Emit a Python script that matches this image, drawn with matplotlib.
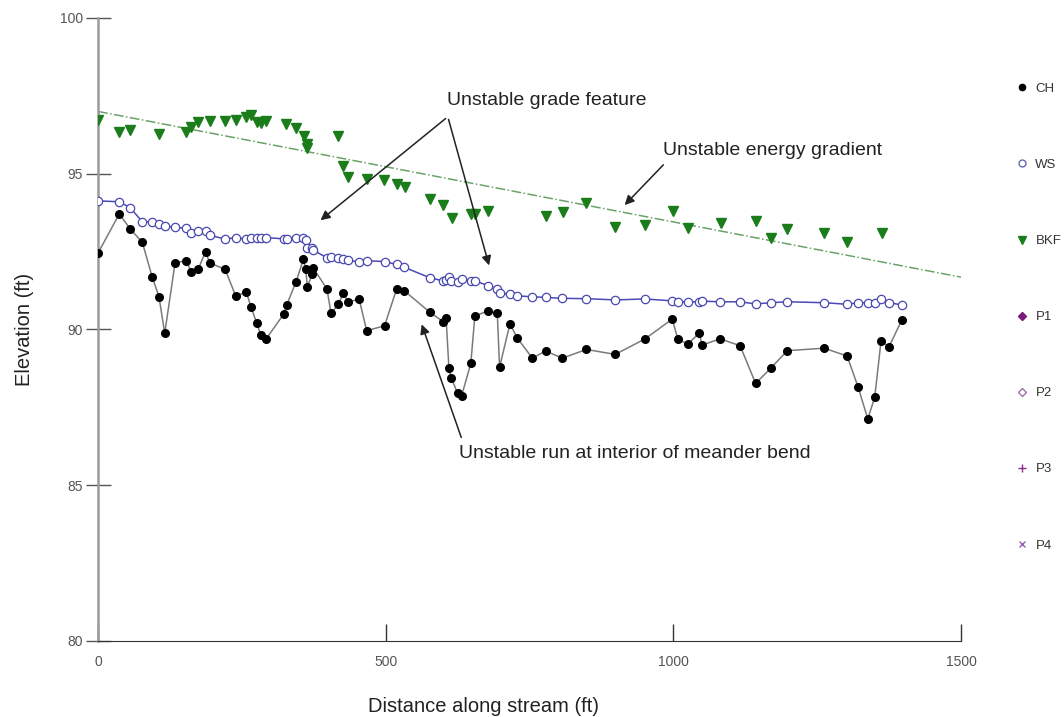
import matplotlib
matplotlib.use("Agg")
import matplotlib.pyplot as plt
from matplotlib.lines import Line2D

plt.rcParams['font.family'] = ['Liberation Sans', 'DejaVu Sans']

# survey stations (ft along stream), shared by CH and WS
station = [0, 37, 56, 77, 94, 106, 116, 134, 153, 162, 174, 187, 194, 221, 239,
           258, 266, 276, 283, 292, 323, 328, 344, 357, 361, 364, 372, 374, 398,
           405, 418, 426, 435, 454, 467, 498, 519, 532, 577, 600, 605, 610, 614,
           625, 632, 648, 655, 678, 694, 698, 716, 729, 755, 778, 807, 849, 899,
           950, 998, 1008, 1025, 1045, 1050, 1081, 1116, 1143, 1169, 1198, 1262,
           1302, 1321, 1338, 1350, 1361, 1375, 1397]

# channel bed (thalweg) elevation
ch = [92.45, 93.71, 93.23, 92.80, 91.70, 91.05, 89.88, 92.14, 92.21, 91.86, 91.93,
      92.50, 92.14, 91.93, 91.09, 91.19, 90.72, 90.20, 89.82, 89.69, 90.50, 90.79,
      91.52, 92.25, 91.93, 91.37, 91.77, 91.98, 91.30, 90.52, 90.81, 91.16, 90.89,
      90.97, 89.96, 90.12, 91.29, 91.25, 90.55, 90.25, 90.36, 88.75, 88.45, 87.95,
      87.87, 88.91, 90.43, 90.60, 90.52, 88.79, 90.18, 89.72, 89.08, 89.31, 89.08,
      89.36, 89.20, 89.69, 90.33, 89.69, 89.53, 89.88, 89.50, 89.70, 89.48, 88.27,
      88.75, 89.32, 89.40, 89.15, 88.16, 87.13, 87.82, 89.63, 89.45, 90.30]

# water surface elevation
ws = [94.13, 94.10, 93.91, 93.46, 93.46, 93.39, 93.32, 93.28, 93.25, 93.11, 93.16,
      93.17, 93.03, 92.90, 92.95, 92.90, 92.93, 92.95, 92.95, 92.95, 92.91, 92.91,
      92.95, 92.93, 92.87, 92.61, 92.61, 92.55, 92.30, 92.32, 92.29, 92.26, 92.23,
      92.16, 92.21, 92.18, 92.09, 92.00, 91.66, 91.56, 91.59, 91.68, 91.57, 91.53,
      91.62, 91.56, 91.56, 91.41, 91.29, 91.18, 91.13, 91.08, 91.05, 91.03, 91.00,
      90.99, 90.95, 90.98, 90.92, 90.89, 90.89, 90.89, 90.91, 90.89, 90.89, 90.82,
      90.86, 90.89, 90.86, 90.81, 90.86, 90.86, 90.86, 90.97, 90.86, 90.79]

# bankfull indicators
bkf_x = [0, 37, 56, 106, 153, 162, 174, 194, 221, 239, 258, 266, 276, 283, 292,
         326, 344, 358, 363, 364, 418, 426, 435, 468, 497, 519, 534, 577, 600,
         616, 649, 656, 678, 779, 808, 848, 899, 950, 999, 1025, 1082, 1144, 1169,
         1198, 1262, 1302, 1362]
bkf_y = [96.73, 96.35, 96.40, 96.28, 96.33, 96.51, 96.67, 96.69, 96.69, 96.73,
         96.83, 96.89, 96.65, 96.62, 96.69, 96.60, 96.46, 96.22, 95.95, 95.84,
         96.22, 95.25, 94.91, 94.82, 94.80, 94.67, 94.58, 94.18, 94.00, 93.57,
         93.70, 93.70, 93.80, 93.64, 93.78, 94.05, 93.30, 93.35, 93.80, 93.27,
         93.41, 93.48, 92.93, 93.22, 93.09, 92.82, 93.09]

# energy gradient line end points
grad_x = [0, 1500]
grad_y = [97.0, 91.68]

fig = plt.figure(figsize=(10.64, 7.17), dpi=100)
ax = fig.add_axes([0.0921, 0.106, 0.8111, 0.8689])

ax.plot(grad_x, grad_y, linestyle='-.', color='#6aa26a', linewidth=1.1)
ax.plot(station, ch, color='#7a7a7a', linewidth=1.1, marker='o', markersize=5.5,
        markerfacecolor='black', markeredgecolor='black', zorder=3)
ax.plot(station, ws, color='#4a4ab4', linewidth=1.1, marker='o', markersize=6,
        markerfacecolor='white', markeredgecolor='#4848b0', markeredgewidth=0.9, zorder=3)
ax.plot(bkf_x, bkf_y, linestyle='none', marker='v', markersize=6.8,
        color='#1a7d1a', zorder=3)

# annotations
arrow = dict(arrowstyle='-|>', color='#222222', lw=1.1, mutation_scale=14)
txt = dict(fontsize=14, va='center', ha='left', color='#222222')
ax.text(607, 97.34, 'Unstable grade feature', **txt)
ax.annotate('', xy=(383, 93.45), xytext=(608, 96.83), arrowprops=arrow)
ax.annotate('', xy=(681, 91.97), xytext=(608, 96.83), arrowprops=arrow)
ax.text(982, 95.76, 'Unstable energy gradient', **txt)
ax.annotate('', xy=(912, 93.93), xytext=(986, 95.35), arrowprops=arrow)
ax.text(627, 86.03, 'Unstable run at interior of meander bend', **txt)
ax.annotate('', xy=(561, 90.25), xytext=(633, 86.45), arrowprops=arrow)

ax.set_xlim(0, 1500)
ax.set_ylim(80, 100)
ax.set_xticks([0, 500, 1000, 1500])
ax.set_yticks([80, 85, 90, 95, 100])
ax.spines['top'].set_visible(False)
ax.spines['right'].set_visible(False)
ax.spines['left'].set_color('#9a9a9a')
ax.spines['left'].set_linewidth(1.8)
ax.spines['bottom'].set_color('#333333')
ax.tick_params(axis='y', direction='inout', length=18, width=1, color='#555555',
               labelsize=10, labelcolor='#555555', pad=2)
ax.tick_params(axis='x', direction='in', length=12, width=1, color='#333333',
               labelsize=10, labelcolor='#555555', pad=10)
ax.set_xlabel('Distance along stream (ft)', fontsize=14.5, color='#222222')
ax.set_ylabel('Elevation (ft)', fontsize=14.5, color='#222222')
ax.xaxis.set_label_coords(0.447, -0.09)
ax.yaxis.set_label_coords(-0.074, 0.5)

handles = [
    Line2D([], [], linestyle='none', marker='o', markersize=4.5, color='black'),
    Line2D([], [], linestyle='none', marker='o', markersize=5, markerfacecolor='white',
           markeredgecolor='#6a6ab0'),
    Line2D([], [], linestyle='none', marker='v', markersize=6, color='#1a7d1a'),
    Line2D([], [], linestyle='none', marker='D', markersize=4, color='#7a1a7a'),
    Line2D([], [], linestyle='none', marker='D', markersize=4.5, markerfacecolor='white',
           markeredgecolor='#a070a8'),
    Line2D([], [], linestyle='none', marker='+', markersize=6, color='#8a2a8a'),
    Line2D([], [], linestyle='none', marker='x', markersize=5, color='#9a60b0'),
]
labels = ['CH', 'WS', 'BKF', 'P1', 'P2', 'P3', 'P4']
leg = fig.legend(handles, labels, loc='upper left', bbox_to_anchor=(0.9545, 0.8846),
                 frameon=False, fontsize=9.5, labelspacing=4.84, handlelength=1.0,
                 handletextpad=0.5, borderpad=0, borderaxespad=0)
for t in leg.get_texts():
    t.set_color('#333333')

fig.savefig('out.png', dpi=100)
